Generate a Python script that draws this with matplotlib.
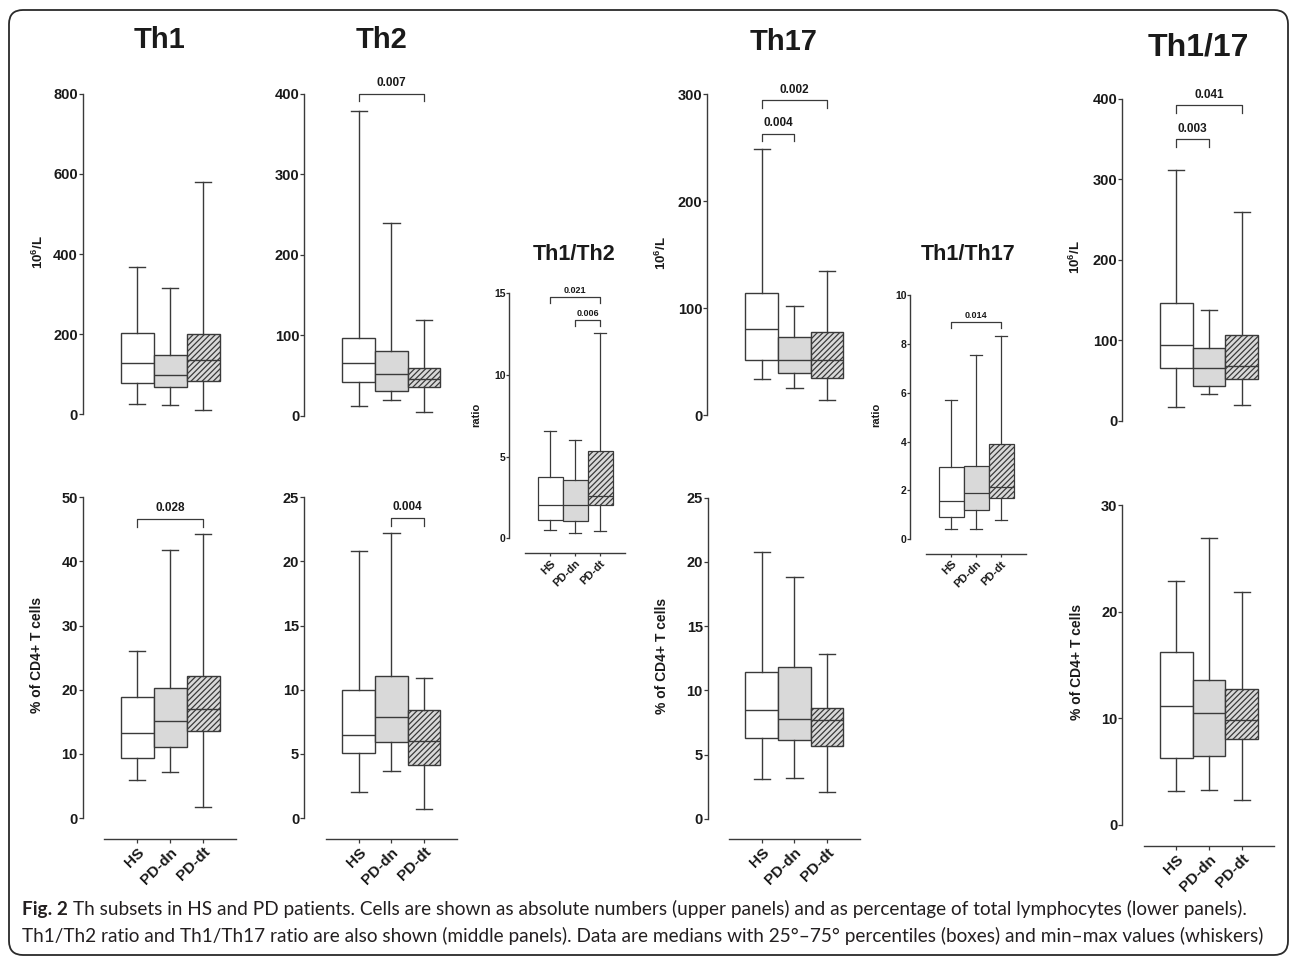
import matplotlib
matplotlib.use('Agg')
import matplotlib.pyplot as plt
from matplotlib.patches import FancyBboxPatch
from matplotlib.transforms import IdentityTransform

plt.rcParams['font.family'] = ['Liberation Sans', 'DejaVu Sans']
plt.rcParams['mathtext.fontset'] = 'custom'
plt.rcParams['mathtext.bf'] = 'Liberation Sans:bold'
plt.rcParams['mathtext.rm'] = 'Liberation Sans:bold'
plt.rcParams['mathtext.default'] = 'bf'
plt.rcParams['hatch.linewidth'] = 0.9
plt.rcParams['hatch.color'] = '#333333'

W, H = 1290, 960

# ---------------- data ----------------
groups = ['HS', 'PD-dn', 'PD-dt']

# each row: [min, q1, median, q3, max] for HS, PD-dn, PD-dt
th1_abs = [[26, 77, 128, 203, 368], [24, 67, 99, 147, 314], [11, 83, 135, 200, 580]]
th2_abs = [[12, 42, 65, 96, 379], [20, 31, 52, 80, 239], [5, 36, 45, 59, 119]]
th17_abs = [[34, 51, 80, 114, 249], [25, 39, 51, 73, 102], [14, 35, 51, 78, 135]]
th1_17_abs = [[17, 66, 94, 146, 312], [33, 43, 66, 91, 138], [19, 52, 68, 107, 260]]
th1_pct = [[6.0, 9.3, 13.2, 18.9, 26.1], [7.2, 11.1, 15.2, 20.2, 41.8], [1.7, 13.5, 17.0, 22.1, 44.3]]
th2_pct = [[2.0, 5.1, 6.5, 9.95, 20.8], [3.7, 5.9, 7.9, 11.1, 22.2], [0.7, 4.1, 6.0, 8.4, 10.9]]
th17_pct = [[3.1, 6.3, 8.5, 11.4, 20.8], [3.2, 6.1, 7.8, 11.8, 18.8], [2.1, 5.7, 7.7, 8.6, 12.8]]
th1_17_pct = [[3.2, 6.3, 11.1, 16.2, 22.9], [3.3, 6.4, 10.5, 13.6, 26.9], [2.3, 8.0, 9.8, 12.7, 21.8]]
th1_th2_ratio = [[0.51, 1.12, 2.06, 3.77, 6.6], [0.34, 1.04, 2.02, 3.59, 6.0], [0.45, 2.02, 2.61, 5.35, 12.6]]
th1_th17_ratio = [[0.42, 0.90, 1.57, 2.94, 5.7], [0.41, 1.18, 1.88, 2.99, 7.56], [0.79, 1.70, 2.15, 3.89, 8.33]]

# significance brackets: (group a, group b, level, p-value)
th2_abs_sig = [(1, 3, 400, '0.007')]
th17_abs_sig = [(1, 3, 294, '0.002'), (1, 2, 263, '0.004')]
th1_17_abs_sig = [(1, 3, 392, '0.041'), (1, 2, 350, '0.003')]
th1_pct_sig = [(1, 3, 46.6, '0.028')]
th2_pct_sig = [(2, 3, 23.4, '0.004')]
th1_th2_sig = [(1, 3, 14.8, '0.021'), (2, 3, 13.37, '0.006')]
th1_th17_sig = [(1, 3, 8.91, '0.014')]

th1_abs_ticks = [0, 200, 400, 600, 800]
th2_abs_ticks = [0, 100, 200, 300, 400]
th17_abs_ticks = [0, 100, 200, 300]
th1_17_abs_ticks = [0, 100, 200, 300, 400]
th1_pct_ticks = [0, 10, 20, 30, 40, 50]
th2_pct_ticks = [0, 5, 10, 15, 20, 25]
th17_pct_ticks = [0, 5, 10, 15, 20, 25]
th1_17_pct_ticks = [0, 10, 20, 30]
th1_th2_ticks = [0, 5, 10, 15]
th1_th17_ticks = [0, 2, 4, 6, 8, 10]

# ---------------- style ----------------
LINE = '#3a3a3a'
TXT = '#1a1a1a'
face = ['white', '#d9d9d9', '#d9d9d9']
hatches = [None, None, '//////']

fig = plt.figure(figsize=(W / 100, H / 100), dpi=100)

# outer rounded frame (pixel coordinates)
frame = FancyBboxPatch((9, H - 955), 1279, 945, boxstyle='round,pad=0,rounding_size=14',
                       transform=IdentityTransform(), facecolor='none', edgecolor='#2a2a2a',
                       linewidth=1.3, zorder=0)
fig.patches.append(frame)


def panel(stats, ticks, sig, spine, c1, sp, y0, ytop, xline=None, small=False, show_x=False):
    top = ticks[-1]
    right = c1 + 3 * sp
    bottom = xline if xline is not None else y0
    ax = fig.add_axes([spine / W, 1 - bottom / H, (right - spine) / W, (bottom - ytop) / H])
    ax.patch.set_alpha(0)
    scale = (y0 - ytop) / top
    ax.set_xlim(1 + (spine - c1) / sp, 4)
    ax.set_ylim(-(bottom - y0) / scale, top)

    bstats = []
    for g, s in zip(groups, stats):
        bstats.append(dict(label=g, whislo=s[0], q1=s[1], med=s[2], q3=s[3], whishi=s[4], fliers=[]))
    lw = 0.9 if small else 1.0
    res = ax.bxp(bstats, positions=[1, 2, 3], widths=1.0, patch_artist=True, showfliers=False,
                 capwidths=0.5,
                 boxprops=dict(edgecolor=LINE, linewidth=lw),
                 medianprops=dict(color=LINE, linewidth=lw),
                 whiskerprops=dict(color=LINE, linewidth=lw),
                 capprops=dict(color=LINE, linewidth=lw))
    for b, fc, h in zip(res['boxes'], face, hatches):
        b.set_facecolor(fc)
        if h:
            b.set_hatch(h)
    for k in res:
        for a in res[k]:
            a.set_clip_on(False)

    for s in ['top', 'right']:
        ax.spines[s].set_visible(False)
    ax.spines['left'].set_bounds(0, top)
    ax.spines['left'].set_color(LINE)
    ax.spines['left'].set_linewidth(1.0)
    tick_fs = 7.5 if small else 10.5
    ax.set_yticks(ticks)
    ax.set_yticklabels([str(t) for t in ticks], fontsize=tick_fs, fontweight='bold', color=TXT)
    ax.tick_params(axis='y', length=2 if small else 3, width=0.9, color=LINE, pad=0.5)

    if show_x:
        ax.spines['bottom'].set_bounds(0, 4)
        ax.spines['bottom'].set_color(LINE)
        ax.spines['bottom'].set_linewidth(1.0)
        ax.set_xticks([1, 2, 3])
        ax.set_xticklabels(groups, rotation=45, ha='right', va='top', rotation_mode='anchor',
                           fontsize=8 if small else 11, fontweight='bold', color=TXT)
        ax.tick_params(axis='x', length=2 if small else 3, width=0.9, color=LINE, pad=1.5)
    else:
        ax.spines['bottom'].set_visible(False)
        ax.set_xticks([])

    tick_px = 6 if small else 7.7
    for a, b, lev, p in sig:
        d = tick_px / scale
        ax.plot([a, a, b, b], [lev - d, lev, lev, lev - d], color=LINE, lw=0.9, clip_on=False)
        ax.annotate(p, xy=((a + b) / 2, lev), xytext=(0, 2.9 if small else 5.5),
                    textcoords='offset points', ha='center', va='baseline',
                    fontsize=6.5 if small else 8.5, fontweight='bold', color=TXT,
                    annotation_clip=False)
    return ax


panel(th1_abs, th1_abs_ticks, [], 82.7, 137, 33, 414.3, 93.7)
panel(th2_abs, th2_abs_ticks, th2_abs_sig, 304, 358.7, 32.7, 415.7, 93.7)
panel(th17_abs, th17_abs_ticks, th17_abs_sig, 707, 761.7, 32.7, 415, 94)
panel(th1_17_abs, th1_17_abs_ticks, th1_17_abs_sig, 1122, 1176.3, 32.7, 420.7, 99)
panel(th1_pct, th1_pct_ticks, th1_pct_sig, 82.7, 137, 33, 818, 497.3, xline=838.7, show_x=True)
panel(th2_pct, th2_pct_ticks, th2_pct_sig, 304, 358.7, 32.7, 818, 497.3, xline=838.7, show_x=True)
panel(th17_pct, th17_pct_ticks, [], 707.7, 761.7, 32.7, 818.7, 497.7, xline=839.3, show_x=True)
panel(th1_17_pct, th1_17_pct_ticks, [], 1122.3, 1176.3, 32.7, 824.7, 505, xline=845.7, show_x=True)
panel(th1_th2_ratio, th1_th2_ticks, th1_th2_sig, 509.3, 550, 25, 538.3, 293.3, xline=553.3,
      small=True, show_x=True)
panel(th1_th17_ratio, th1_th17_ticks, th1_th17_sig, 910, 951, 25, 539.3, 295, xline=554,
      small=True, show_x=True)


def ftext(x, y, s, **kw):
    return fig.text(x / W, 1 - y / H, s, **kw)


# titles
ftext(159, 48.3, 'Th1', fontsize=21, fontweight='bold', ha='center', va='baseline', color=TXT)
ftext(381, 48.3, 'Th2', fontsize=21, fontweight='bold', ha='center', va='baseline', color=TXT)
ftext(784, 50, 'Th17', fontsize=21, fontweight='bold', ha='center', va='baseline', color=TXT)
ftext(1198, 55, 'Th1/17', fontsize=23, fontweight='bold', ha='center', va='baseline', color=TXT)
ftext(574, 260, 'Th1/Th2', fontsize=15.5, fontweight='bold', ha='center', va='baseline', color=TXT)
ftext(968, 260, 'Th1/Th17', fontsize=15.5, fontweight='bold', ha='center', va='baseline', color=TXT)

# y labels
for x, y in [(38.3, 252), (661.7, 253), (1075, 257)]:
    ftext(x, y, r'10$^{6}$/L', fontsize=9.5, fontweight='bold', rotation=90,
          ha='center', va='center', color=TXT)
for x, y in [(36.7, 655), (661.7, 656), (1076.7, 662)]:
    ftext(x, y, '% of CD4+ T cells', fontsize=10, fontweight='bold', rotation=90,
          ha='center', va='center', color=TXT)
for x, y in [(476.7, 415), (876, 415)]:
    ftext(x, y, 'ratio', fontsize=8, fontweight='bold', rotation=90,
          ha='center', va='center', color=TXT)

# caption
cap_font = ['Lato', 'DejaVu Sans']
CAP = '#231f20'
cap_bold = 'Fig. 2'
cap_rest = ('Th subsets in HS and PD patients. Cells are shown as absolute numbers (upper panels) '
            'and as percentage of total lymphocytes (lower panels).')
cap_line2 = ('Th1/Th2 ratio and Th1/Th17 ratio are also shown (middle panels). Data are medians with '
             '25°–75° percentiles (boxes) and min–max values (whiskers)')
fs0 = 12
tb = ftext(22, 915, cap_bold, fontsize=fs0, fontweight='bold', family=cap_font, color=CAP,
           ha='left', va='baseline')
tr = ftext(80, 915, cap_rest, fontsize=fs0, family=cap_font, color=CAP, ha='left', va='baseline')
t2 = ftext(22, 942, cap_line2, fontsize=fs0, family=cap_font, color=CAP, ha='left', va='baseline')
fig.canvas.draw()
rend = fig.canvas.get_renderer()
wb = tb.get_window_extent(rend).width
wr = tr.get_window_extent(rend).width
w2 = t2.get_window_extent(rend).width
gap = fs0 * 0.26 * 100 / 72
fs = min(fs0 * 1248 / (wb + wr + gap), fs0 * 1235 / w2)
for t in (tb, tr, t2):
    t.set_fontsize(fs)
fig.canvas.draw()
wb = tb.get_window_extent(rend).width
tr.set_x((22 + wb + gap * fs / fs0) / W)

fig.savefig('out.png', dpi=100)
